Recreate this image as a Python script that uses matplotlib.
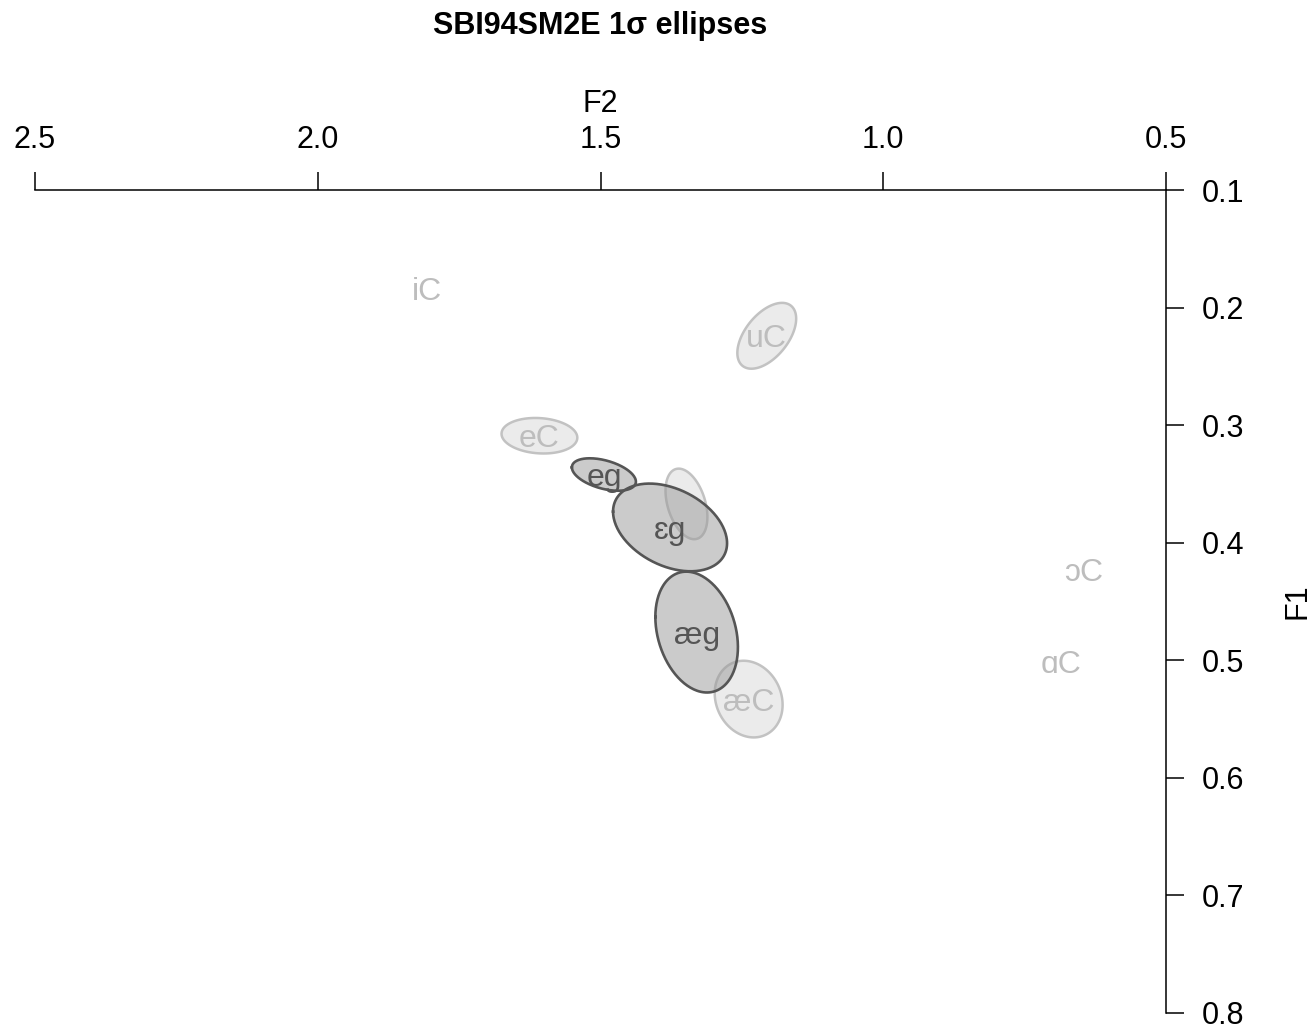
import numpy as np
import matplotlib
matplotlib.use('Agg')
import matplotlib.pyplot as plt

plt.rcParams['font.family'] = ['Liberation Sans', 'DejaVu Sans']

# Formant means (kHz), 1-sigma spreads and F2/F1 correlation per vowel
# "C" context vowels (drawn light, behind)
c_labels = ['uC', 'eC', '', 'æC']   # label of the 3rd ellipse is not shown
c_f2 = [1.206, 1.608, 1.348, 1.238]
c_f1 = [0.224, 0.309, 0.367, 0.533]
c_sd_f2 = [0.052, 0.067, 0.037, 0.060]
c_sd_f1 = [0.028, 0.0151, 0.030, 0.0326]
c_r = [0.52, -0.11, -0.37, -0.15]

# "g" context vowels (drawn dark, in front)
g_labels = ['eg', 'ɛg', 'æg']
g_f2 = [1.494, 1.377, 1.330]
g_f1 = [0.342, 0.387, 0.476]
g_sd_f2 = [0.0566, 0.1008, 0.0730]
g_sd_f1 = [0.0138, 0.0373, 0.0514]
g_r = [-0.44, -0.36, -0.25]

# vowels with only a label (no ellipse)
pt_labels = ['iC', 'ɔC', 'ɑC']
pt_f2 = [1.807, 0.645, 0.685]
pt_f1 = [0.184, 0.423, 0.501]

x_ticks = [2.5, 2.0, 1.5, 1.0, 0.5]
y_ticks = [0.1, 0.2, 0.3, 0.4, 0.5, 0.6, 0.7, 0.8]

FS = 22
LFS = 23


def ellipse_xy(mx, my, sx, sy, r, n=240):
    cov = np.array([[sx * sx, r * sx * sy], [r * sx * sy, sy * sy]])
    L = np.linalg.cholesky(cov)
    t = np.linspace(0, 2 * np.pi, n)
    pts = L @ np.vstack([np.cos(t), np.sin(t)])
    return mx + pts[0], my + pts[1]


fig = plt.figure(figsize=(13.12, 10.29), dpi=100, facecolor='white')
ax = fig.add_axes([35 / 1312, 16 / 1029, 1131 / 1312, 823 / 1029])

# light ellipses
for lab, mx, my, sx, sy, r in zip(c_labels, c_f2, c_f1, c_sd_f2, c_sd_f1, c_r):
    x, y = ellipse_xy(mx, my, sx, sy, r)
    ax.fill(x, y, facecolor='#ebebeb', edgecolor='#c2c2c2', linewidth=1.8, zorder=1)
    if lab:
        ax.text(mx, my, lab, ha='center', va='center_baseline', fontsize=LFS,
                color='#bdbdbd', zorder=1.5)

for lab, mx, my in zip(pt_labels, pt_f2, pt_f1):
    ax.text(mx, my, lab, ha='center', va='center_baseline', fontsize=LFS,
            color='#bdbdbd', zorder=1.5)

# dark ellipses
for lab, mx, my, sx, sy, r in zip(g_labels, g_f2, g_f1, g_sd_f2, g_sd_f1, g_r):
    x, y = ellipse_xy(mx, my, sx, sy, r)
    ax.fill(x, y, facecolor='#999999', alpha=0.5, edgecolor='none', zorder=2)
    ax.plot(x, y, color='#555555', linewidth=1.9, zorder=2.5)
    ax.text(mx, my, lab, ha='center', va='center_baseline', fontsize=LFS,
            color='#555555', zorder=3)

ax.set_xlim(2.5, 0.5)
ax.set_ylim(0.8, 0.1)
ax.set_xticks(x_ticks)
ax.set_xticklabels([f'{v:.1f}' for v in x_ticks])
ax.set_yticks(y_ticks)
ax.set_yticklabels([f'{v:.1f}' for v in y_ticks])

ax.xaxis.tick_top()
ax.yaxis.tick_right()
ax.xaxis.set_label_position('top')
ax.yaxis.set_label_position('right')
ax.tick_params(direction='out', length=13, width=1.1, pad=12.5, labelsize=FS, colors='black')

for side in ['left', 'bottom']:
    ax.spines[side].set_visible(False)
for side in ['top', 'right']:
    ax.spines[side].set_linewidth(1.1)

ax.set_xlabel('F2', fontsize=FS)
ax.set_ylabel('F1', fontsize=FS)
ax.xaxis.set_label_coords(0.5, 1.095)
ax.yaxis.set_label_coords(1.103, 0.5)

fig.text((35 + 1131 / 2) / 1312, 1 - 26 / 1029, 'SBI94SM2E 1σ ellipses',
         ha='center', va='center', fontsize=FS, fontweight='bold')

fig.savefig('out.png', dpi=100, facecolor='white')
